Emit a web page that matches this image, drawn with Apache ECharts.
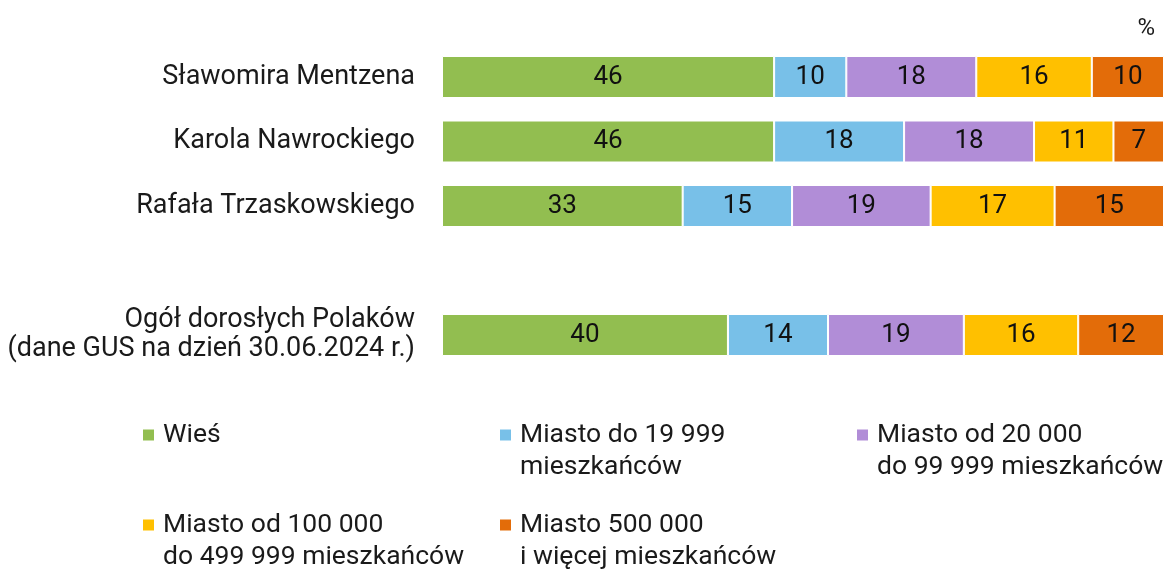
<!DOCTYPE html>
<html>
<head>
    <meta charset="utf-8">
    <script src="https://cdn.jsdelivr.net/npm/echarts@6/dist/echarts.min.js"></script>
    <style>
        html, body { margin: 0; padding: 0; background: #fff; }
    </style>
</head>
<body>
    <div id="main" style="width:1165px;height:570px;"></div>
    <script type="text/javascript">
        // kategorie (pusta pozycja robi odstep przed "Ogol")
        var categories = ['Sławomira Mentzena', 'Karola Nawrockiego', 'Rafała Trzaskowskiego', '',
                          'Ogół dorosłych Polaków\n(dane GUS na dzień 30.06.2024 r.)'];
        var seriesNames = ['Wieś', 'Miasto do 19 999', 'Miasto od 20 000', 'Miasto od 100 000', 'Miasto 500 000'];
        var legendLabels = ['Wieś', 'Miasto do 19 999\nmieszkańców', 'Miasto od 20 000\ndo 99 999 mieszkańców',
                            'Miasto od 100 000\ndo 499 999 mieszkańców', 'Miasto 500 000\ni więcej mieszkańców'];
        var colors = ['#92BE50', '#78C0E8', '#B18DD7', '#FFC000', '#E36C09'];

        // wartosci (%) wg kategorii, '-' = brak
        var wies      = [46, 46, 33, '-', 40];
        var do19      = [10, 18, 15, '-', 14];
        var od20      = [18, 18, 19, '-', 19];
        var od100     = [16, 11, 17, '-', 16];
        var od500     = [10, 7, 15, '-', 12];
        var values = [wies, do19, od20, od100, od500];

        // kazdy pasek wypelnia cala szerokosc (sumy zaokraglen 99/101)
        var sums = categories.map(function (c, i) {
            var s = 0;
            values.forEach(function (v) { if (v[i] !== '-') s += v[i]; });
            return s;
        });

        var font = 'Roboto, "Noto Sans", sans-serif';

        var myChart = echarts.init(document.getElementById('main'));

        var series = seriesNames.map(function (name, k) {
            return {
                name: name,
                type: 'bar',
                stack: 'all',
                barWidth: 42,
                itemStyle: { color: colors[k], borderColor: '#fff', borderWidth: 1 },
                label: {
                    show: true,
                    position: 'inside',
                    fontFamily: font,
                    fontSize: 26,
                    color: '#111',
                    formatter: function (p) { return values[k][p.dataIndex]; }
                },
                data: values[k].map(function (v, i) {
                    return v === '-' ? '-' : v / sums[i] * 100;
                })
            };
        });

        // legenda: osobny komponent dla kazdej pozycji
        // pusta pierwsza linia, zeby kwadrat stal przy pierwszej linii tekstu
        var legendPos = [[141, 0], [498, 0], [855, 0], [141, 1], [498, 1]];
        var legends = seriesNames.map(function (name, k) {
            var twoLines = legendLabels[k].indexOf('\n') >= 0;
            var rowY = legendPos[k][1] ? 525 : 435;
            return {
                data: [name],
                left: legendPos[k][0],
                top: twoLines ? rowY - 32 - 16 : rowY - 16,
                padding: 0,
                itemWidth: 13,
                itemHeight: 13,
                icon: 'rect',
                selectedMode: false,
                formatter: function () { return twoLines ? ' \n' + legendLabels[k] : legendLabels[k]; },
                textStyle: {
                    fontFamily: font,
                    fontSize: 26.5,
                    color: '#1a1a1a',
                    lineHeight: 32,
                    padding: [0, 0, 0, 3]
                }
            };
        });

        var option = {
            backgroundColor: '#fff',
            animation: false,
            title: {
                text: '%',
                right: 5,
                top: 12,
                textStyle: { fontFamily: font, fontSize: 24, fontWeight: 'normal', color: '#1a1a1a' }
            },
            legend: legends,
            grid: {
                left: 442,
                right: 1,
                top: 44.75,
                height: 322.5,
                containLabel: false
            },
            xAxis: {
                type: 'value',
                min: 0,
                max: 100,
                show: false
            },
            yAxis: {
                type: 'category',
                inverse: true,
                data: categories,
                axisLine: { show: false },
                axisTick: { show: false },
                axisLabel: {
                    margin: 27,
                    fontFamily: font,
                    fontSize: 27,
                    color: '#1a1a1a',
                    lineHeight: 29
                }
            },
            series: series
        };
        myChart.setOption(option);
    </script>
</body>
</html>
